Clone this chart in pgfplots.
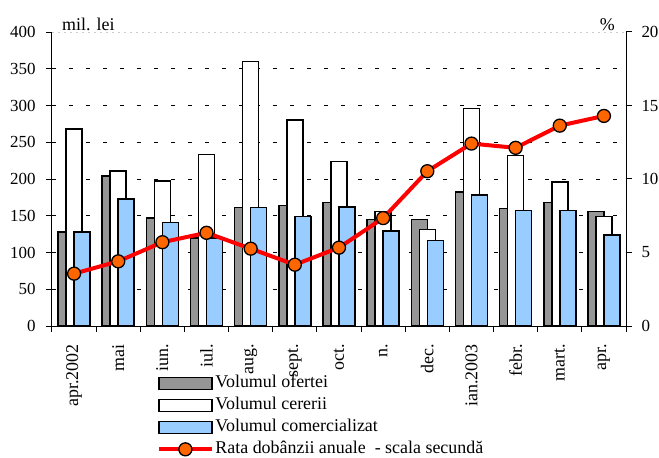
\documentclass[border=0pt]{standalone}
\usepackage{fontspec}
\setmainfont{Liberation Serif}
\usepackage{pgfplots}
\pgfplotsset{compat=1.18}
\definecolor{bargray}{RGB}{150,150,150}
\definecolor{barblue}{RGB}{153,204,255}
\definecolor{mkorange}{RGB}{255,102,0}
\newcommand\chartfont{\fontsize{17}{20}\selectfont\rmfamily}
\newcommand\labfont{\fontsize{18}{21}\selectfont\rmfamily}
\pgfplotsset{
  barlegend/.style={legend image code/.code={\draw[##1] (0bp,-6bp) rectangle (53bp,6bp);}},
  linelegend/.style={legend image code/.code={\draw[##1, mark repeat=2, mark phase=2] plot coordinates {(0bp,0bp) (26.5bp,0bp) (53bp,0bp)};}},
  mybar/.style={ybar, bar width=16bp, draw=black, line width=1.5bp},
}
\begin{document}
\begin{tikzpicture}
\useasboundingbox (-52bp,-132bp) rectangle (607bp,326bp);
\begin{axis}[
  at={(0,0)}, anchor=south west,
  scale only axis, width=574bp, height=294bp,
  xmin=-0.5, xmax=12.5, ymin=0, ymax=400,
  clip=false,
  axis x line*=bottom, axis y line*=left,
  axis line style={-, line width=1bp},
  xtick={-0.5,0.5,...,12.5}, xticklabels={},
  extra x ticks={0,1,...,12},
  extra x tick labels={apr.2002,mai,iun.,iul.,aug.,sept.,oct.,n.,dec.,ian.2003,febr.,mart.,apr.},
  extra x tick style={major tick length=0pt, grid=none, tick label style={rotate=90, anchor=east, inner sep=0pt, font=\labfont}},
  xticklabel shift=18bp,
  ytick={0,50,...,350},
  extra y ticks={400},
  extra y tick style={grid=major, major grid style={black!20, line width=0.6bp, dash pattern=on 2bp off 4bp}},
  yticklabel shift=7bp,
  ymajorgrids, grid style={black, line width=0.8bp, dash pattern=on 4bp off 13bp},
  tick align=outside, major tick length=6bp,
  tick style={black, line width=1bp},
  tick label style={font=\chartfont},
  /pgf/number format/assume math mode=true,
  legend cell align=left,
  legend style={at={(rel axis cs:0.1824,-0.162)}, anchor=north west, draw=none, fill=none,
    inner sep=0pt, row sep=3bp, font=\labfont,
    nodes={inner sep=1.5bp, text depth=4bp, text height=12bp}},
]
\addplot[mybar, bar shift=-8bp, fill=bargray, barlegend] coordinates {
(0,128) (1,204) (2,147) (3,120) (4,161) (5,164) (6,168) (7,145) (8,145) (9,182) (10,160) (11,168) (12,156)};
\addlegendentry{Volumul ofertei}
\addplot[mybar, bar shift=0bp, fill=white, barlegend] coordinates {
(0,268) (1,211) (2,197) (3,233) (4,360) (5,280) (6,224) (7,156) (8,131) (9,296) (10,232) (11,196) (12,149)};
\addlegendentry{Volumul cererii}
\addplot[mybar, bar shift=8bp, fill=barblue, barlegend] coordinates {
(0,128) (1,173) (2,141) (3,120) (4,161) (5,149) (6,162) (7,129) (8,116) (9,178) (10,157) (11,157) (12,124)};
\addlegendentry{Volumul comercializat}
\addlegendimage{linelegend, red, line width=4bp, mark=*, mark size=6.5bp, mark options={fill=mkorange, draw=black, line width=1.3bp}}
\addlegendentry{Rata dobânzii anuale\ \ - scala secundă}
\node[anchor=base west, font=\labfont, inner sep=0pt, xshift=10bp, yshift=2bp] at (rel axis cs:0,1) {mil. lei};
\node[anchor=base east, font=\labfont, inner sep=0pt, xshift=-11bp, yshift=2bp] at (rel axis cs:1,1) {\%};
\end{axis}
\begin{axis}[
  at={(0,0)}, anchor=south west,
  scale only axis, width=574bp, height=294bp,
  xmin=-0.5, xmax=12.5, ymin=0, ymax=20,
  axis y line*=right, axis x line=none,
  axis line style={-, line width=1bp},
  ytick={0,5,...,20},
  yticklabel shift=6bp,
  tick align=outside, major tick length=6bp,
  tick style={black, line width=1bp},
  tick label style={font=\chartfont},
  /pgf/number format/assume math mode=true,
  clip=false,
]
\addplot[red, line width=4bp, line join=round, mark=*, mark size=6.5bp, mark options={fill=mkorange, draw=black, line width=1.3bp}] coordinates {
(0,3.56) (1,4.4) (2,5.7) (3,6.34) (4,5.26) (5,4.17) (6,5.33) (7,7.34) (8,10.53) (9,12.41) (10,12.12) (11,13.63) (12,14.29)};
\end{axis}
\end{tikzpicture}
\end{document}
